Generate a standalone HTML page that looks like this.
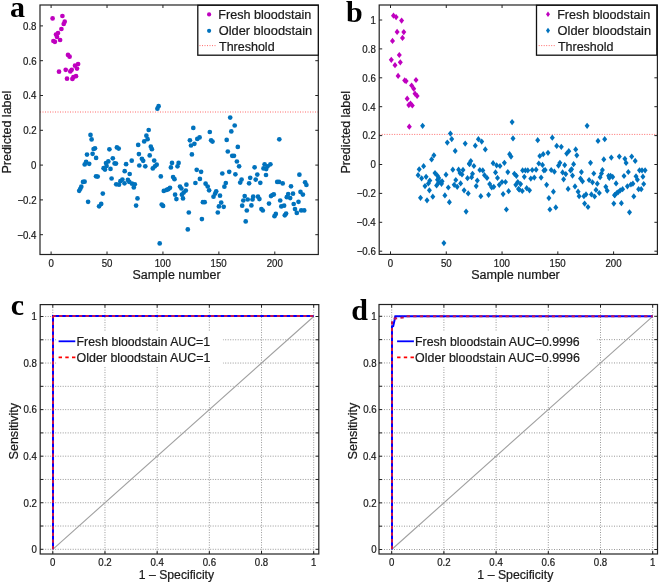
<!DOCTYPE html>
<html><head><meta charset="utf-8"><style>
html,body{margin:0;padding:0;background:#fff;width:660px;height:583px;overflow:hidden}
svg{display:block;will-change:transform}
</style></head><body>
<svg width="660" height="583" viewBox="0 0 660 583">
<g font-family="Liberation Sans, sans-serif" fill="#1a1a1a">
<line x1="40.0" y1="112" x2="318.3" y2="112" stroke="#ff6a6a" stroke-width="1" stroke-dasharray="1,1.5"/>
<circle cx="52.6" cy="18.4" r="2.35" fill="#bf00bf"/>
<circle cx="62.4" cy="16.0" r="2.35" fill="#bf00bf"/>
<circle cx="64.7" cy="21.7" r="2.35" fill="#bf00bf"/>
<circle cx="63.7" cy="24.0" r="2.35" fill="#bf00bf"/>
<circle cx="61.4" cy="29.0" r="2.35" fill="#bf00bf"/>
<circle cx="58.0" cy="33.0" r="2.35" fill="#bf00bf"/>
<circle cx="56.0" cy="34.6" r="2.35" fill="#bf00bf"/>
<circle cx="57.0" cy="36.9" r="2.35" fill="#bf00bf"/>
<circle cx="60.1" cy="40.0" r="2.35" fill="#bf00bf"/>
<circle cx="53.4" cy="41.0" r="2.35" fill="#bf00bf"/>
<circle cx="54.9" cy="41.8" r="2.35" fill="#bf00bf"/>
<circle cx="68.0" cy="54.9" r="2.35" fill="#bf00bf"/>
<circle cx="69.6" cy="56.7" r="2.35" fill="#bf00bf"/>
<circle cx="78.1" cy="64.0" r="2.35" fill="#bf00bf"/>
<circle cx="75.0" cy="65.7" r="2.35" fill="#bf00bf"/>
<circle cx="77.0" cy="68.6" r="2.35" fill="#bf00bf"/>
<circle cx="65.7" cy="69.8" r="2.35" fill="#bf00bf"/>
<circle cx="71.7" cy="69.8" r="2.35" fill="#bf00bf"/>
<circle cx="70.3" cy="71.4" r="2.35" fill="#bf00bf"/>
<circle cx="59.0" cy="71.7" r="2.35" fill="#bf00bf"/>
<circle cx="76.0" cy="76.2" r="2.35" fill="#bf00bf"/>
<circle cx="73.4" cy="77.2" r="2.35" fill="#bf00bf"/>
<circle cx="72.4" cy="78.9" r="2.35" fill="#bf00bf"/>
<circle cx="67.0" cy="78.7" r="2.35" fill="#bf00bf"/>
<circle cx="90.5" cy="134.9" r="2.35" fill="#0072bd"/>
<circle cx="91.6" cy="139.4" r="2.35" fill="#0072bd"/>
<circle cx="93.6" cy="149.0" r="2.35" fill="#0072bd"/>
<circle cx="95.0" cy="148.3" r="2.35" fill="#0072bd"/>
<circle cx="109.4" cy="149.3" r="2.35" fill="#0072bd"/>
<circle cx="116.9" cy="147.4" r="2.35" fill="#0072bd"/>
<circle cx="118.7" cy="148.6" r="2.35" fill="#0072bd"/>
<circle cx="138.2" cy="144.9" r="2.35" fill="#0072bd"/>
<circle cx="87.0" cy="154.6" r="2.35" fill="#0072bd"/>
<circle cx="92.6" cy="153.8" r="2.35" fill="#0072bd"/>
<circle cx="96.1" cy="157.9" r="2.35" fill="#0072bd"/>
<circle cx="112.8" cy="158.3" r="2.35" fill="#0072bd"/>
<circle cx="138.9" cy="154.1" r="2.35" fill="#0072bd"/>
<circle cx="131.7" cy="160.7" r="2.35" fill="#0072bd"/>
<circle cx="86.1" cy="161.8" r="2.35" fill="#0072bd"/>
<circle cx="84.7" cy="164.4" r="2.35" fill="#0072bd"/>
<circle cx="89.2" cy="163.8" r="2.35" fill="#0072bd"/>
<circle cx="106.0" cy="163.1" r="2.35" fill="#0072bd"/>
<circle cx="108.3" cy="161.4" r="2.35" fill="#0072bd"/>
<circle cx="114.6" cy="163.4" r="2.35" fill="#0072bd"/>
<circle cx="126.1" cy="164.2" r="2.35" fill="#0072bd"/>
<circle cx="139.3" cy="165.5" r="2.35" fill="#0072bd"/>
<circle cx="106.6" cy="165.9" r="2.35" fill="#0072bd"/>
<circle cx="103.6" cy="168.2" r="2.35" fill="#0072bd"/>
<circle cx="105.0" cy="169.6" r="2.35" fill="#0072bd"/>
<circle cx="110.5" cy="168.9" r="2.35" fill="#0072bd"/>
<circle cx="124.7" cy="171.2" r="2.35" fill="#0072bd"/>
<circle cx="129.7" cy="174.0" r="2.35" fill="#0072bd"/>
<circle cx="97.7" cy="176.6" r="2.35" fill="#0072bd"/>
<circle cx="96.0" cy="176.3" r="2.35" fill="#0072bd"/>
<circle cx="111.6" cy="178.5" r="2.35" fill="#0072bd"/>
<circle cx="83.0" cy="181.9" r="2.35" fill="#0072bd"/>
<circle cx="84.6" cy="181.7" r="2.35" fill="#0072bd"/>
<circle cx="116.0" cy="163.6" r="2.35" fill="#0072bd"/>
<circle cx="81.3" cy="186.7" r="2.35" fill="#0072bd"/>
<circle cx="80.3" cy="188.8" r="2.35" fill="#0072bd"/>
<circle cx="79.2" cy="190.8" r="2.35" fill="#0072bd"/>
<circle cx="122.4" cy="179.6" r="2.35" fill="#0072bd"/>
<circle cx="120.4" cy="181.2" r="2.35" fill="#0072bd"/>
<circle cx="127.9" cy="179.9" r="2.35" fill="#0072bd"/>
<circle cx="129.3" cy="181.9" r="2.35" fill="#0072bd"/>
<circle cx="116.2" cy="184.3" r="2.35" fill="#0072bd"/>
<circle cx="119.0" cy="184.7" r="2.35" fill="#0072bd"/>
<circle cx="124.5" cy="183.3" r="2.35" fill="#0072bd"/>
<circle cx="132.0" cy="183.7" r="2.35" fill="#0072bd"/>
<circle cx="134.8" cy="184.3" r="2.35" fill="#0072bd"/>
<circle cx="133.8" cy="187.4" r="2.35" fill="#0072bd"/>
<circle cx="102.8" cy="193.6" r="2.35" fill="#0072bd"/>
<circle cx="137.5" cy="198.4" r="2.35" fill="#0072bd"/>
<circle cx="88.1" cy="201.8" r="2.35" fill="#0072bd"/>
<circle cx="101.2" cy="203.9" r="2.35" fill="#0072bd"/>
<circle cx="99.1" cy="206.3" r="2.35" fill="#0072bd"/>
<circle cx="136.1" cy="205.6" r="2.35" fill="#0072bd"/>
<circle cx="158.6" cy="106.2" r="2.35" fill="#0072bd"/>
<circle cx="157.4" cy="108.7" r="2.35" fill="#0072bd"/>
<circle cx="148.7" cy="130.0" r="2.35" fill="#0072bd"/>
<circle cx="193.3" cy="127.9" r="2.35" fill="#0072bd"/>
<circle cx="209.8" cy="132.0" r="2.35" fill="#0072bd"/>
<circle cx="146.4" cy="135.7" r="2.35" fill="#0072bd"/>
<circle cx="147.6" cy="139.2" r="2.35" fill="#0072bd"/>
<circle cx="144.2" cy="141.4" r="2.35" fill="#0072bd"/>
<circle cx="199.6" cy="137.4" r="2.35" fill="#0072bd"/>
<circle cx="197.3" cy="138.9" r="2.35" fill="#0072bd"/>
<circle cx="189.9" cy="140.3" r="2.35" fill="#0072bd"/>
<circle cx="211.1" cy="140.3" r="2.35" fill="#0072bd"/>
<circle cx="212.5" cy="141.6" r="2.35" fill="#0072bd"/>
<circle cx="150.8" cy="146.7" r="2.35" fill="#0072bd"/>
<circle cx="151.9" cy="149.2" r="2.35" fill="#0072bd"/>
<circle cx="194.4" cy="143.8" r="2.35" fill="#0072bd"/>
<circle cx="191.0" cy="145.5" r="2.35" fill="#0072bd"/>
<circle cx="149.7" cy="155.4" r="2.35" fill="#0072bd"/>
<circle cx="191.9" cy="154.4" r="2.35" fill="#0072bd"/>
<circle cx="141.9" cy="158.8" r="2.35" fill="#0072bd"/>
<circle cx="143.2" cy="160.8" r="2.35" fill="#0072bd"/>
<circle cx="154.2" cy="160.6" r="2.35" fill="#0072bd"/>
<circle cx="145.3" cy="166.3" r="2.35" fill="#0072bd"/>
<circle cx="152.8" cy="168.4" r="2.35" fill="#0072bd"/>
<circle cx="154.9" cy="166.3" r="2.35" fill="#0072bd"/>
<circle cx="156.7" cy="164.7" r="2.35" fill="#0072bd"/>
<circle cx="172.0" cy="162.9" r="2.35" fill="#0072bd"/>
<circle cx="170.9" cy="167.4" r="2.35" fill="#0072bd"/>
<circle cx="178.6" cy="162.9" r="2.35" fill="#0072bd"/>
<circle cx="177.5" cy="166.3" r="2.35" fill="#0072bd"/>
<circle cx="196.7" cy="169.8" r="2.35" fill="#0072bd"/>
<circle cx="201.1" cy="171.8" r="2.35" fill="#0072bd"/>
<circle cx="160.8" cy="176.4" r="2.35" fill="#0072bd"/>
<circle cx="173.1" cy="177.1" r="2.35" fill="#0072bd"/>
<circle cx="174.5" cy="179.2" r="2.35" fill="#0072bd"/>
<circle cx="199.9" cy="178.9" r="2.35" fill="#0072bd"/>
<circle cx="195.4" cy="183.0" r="2.35" fill="#0072bd"/>
<circle cx="186.4" cy="184.7" r="2.35" fill="#0072bd"/>
<circle cx="205.6" cy="183.7" r="2.35" fill="#0072bd"/>
<circle cx="207.7" cy="186.5" r="2.35" fill="#0072bd"/>
<circle cx="209.1" cy="190.3" r="2.35" fill="#0072bd"/>
<circle cx="163.8" cy="190.9" r="2.35" fill="#0072bd"/>
<circle cx="166.6" cy="189.9" r="2.35" fill="#0072bd"/>
<circle cx="170.0" cy="187.8" r="2.35" fill="#0072bd"/>
<circle cx="168.3" cy="189.2" r="2.35" fill="#0072bd"/>
<circle cx="180.0" cy="186.5" r="2.35" fill="#0072bd"/>
<circle cx="181.4" cy="188.5" r="2.35" fill="#0072bd"/>
<circle cx="185.8" cy="190.6" r="2.35" fill="#0072bd"/>
<circle cx="183.7" cy="192.6" r="2.35" fill="#0072bd"/>
<circle cx="181.9" cy="194.7" r="2.35" fill="#0072bd"/>
<circle cx="175.1" cy="194.7" r="2.35" fill="#0072bd"/>
<circle cx="176.4" cy="199.1" r="2.35" fill="#0072bd"/>
<circle cx="183.0" cy="198.4" r="2.35" fill="#0072bd"/>
<circle cx="213.5" cy="196.7" r="2.35" fill="#0072bd"/>
<circle cx="161.7" cy="204.6" r="2.35" fill="#0072bd"/>
<circle cx="163.1" cy="205.9" r="2.35" fill="#0072bd"/>
<circle cx="202.9" cy="202.2" r="2.35" fill="#0072bd"/>
<circle cx="204.7" cy="202.2" r="2.35" fill="#0072bd"/>
<circle cx="188.8" cy="212.5" r="2.35" fill="#0072bd"/>
<circle cx="201.9" cy="219.1" r="2.35" fill="#0072bd"/>
<circle cx="187.8" cy="229.4" r="2.35" fill="#0072bd"/>
<circle cx="159.7" cy="243.4" r="2.35" fill="#0072bd"/>
<circle cx="230.2" cy="117.6" r="2.35" fill="#0072bd"/>
<circle cx="234.7" cy="125.5" r="2.35" fill="#0072bd"/>
<circle cx="231.3" cy="131.4" r="2.35" fill="#0072bd"/>
<circle cx="226.7" cy="139.9" r="2.35" fill="#0072bd"/>
<circle cx="279.3" cy="139.3" r="2.35" fill="#0072bd"/>
<circle cx="237.8" cy="146.9" r="2.35" fill="#0072bd"/>
<circle cx="227.8" cy="151.5" r="2.35" fill="#0072bd"/>
<circle cx="232.2" cy="155.8" r="2.35" fill="#0072bd"/>
<circle cx="234.0" cy="155.8" r="2.35" fill="#0072bd"/>
<circle cx="236.9" cy="161.5" r="2.35" fill="#0072bd"/>
<circle cx="239.1" cy="166.3" r="2.35" fill="#0072bd"/>
<circle cx="254.6" cy="167.3" r="2.35" fill="#0072bd"/>
<circle cx="264.6" cy="164.3" r="2.35" fill="#0072bd"/>
<circle cx="270.4" cy="164.3" r="2.35" fill="#0072bd"/>
<circle cx="267.6" cy="166.3" r="2.35" fill="#0072bd"/>
<circle cx="263.5" cy="168.4" r="2.35" fill="#0072bd"/>
<circle cx="266.2" cy="169.1" r="2.35" fill="#0072bd"/>
<circle cx="222.3" cy="173.5" r="2.35" fill="#0072bd"/>
<circle cx="229.2" cy="171.8" r="2.35" fill="#0072bd"/>
<circle cx="235.4" cy="174.3" r="2.35" fill="#0072bd"/>
<circle cx="257.3" cy="174.6" r="2.35" fill="#0072bd"/>
<circle cx="266.0" cy="175.0" r="2.35" fill="#0072bd"/>
<circle cx="241.6" cy="179.6" r="2.35" fill="#0072bd"/>
<circle cx="240.2" cy="182.6" r="2.35" fill="#0072bd"/>
<circle cx="250.2" cy="177.8" r="2.35" fill="#0072bd"/>
<circle cx="249.1" cy="183.3" r="2.35" fill="#0072bd"/>
<circle cx="255.7" cy="179.6" r="2.35" fill="#0072bd"/>
<circle cx="260.3" cy="182.8" r="2.35" fill="#0072bd"/>
<circle cx="277.2" cy="181.9" r="2.35" fill="#0072bd"/>
<circle cx="279.0" cy="181.9" r="2.35" fill="#0072bd"/>
<circle cx="282.7" cy="183.4" r="2.35" fill="#0072bd"/>
<circle cx="225.8" cy="183.0" r="2.35" fill="#0072bd"/>
<circle cx="224.4" cy="186.7" r="2.35" fill="#0072bd"/>
<circle cx="216.2" cy="191.3" r="2.35" fill="#0072bd"/>
<circle cx="215.2" cy="193.6" r="2.35" fill="#0072bd"/>
<circle cx="220.0" cy="195.7" r="2.35" fill="#0072bd"/>
<circle cx="221.2" cy="202.6" r="2.35" fill="#0072bd"/>
<circle cx="218.9" cy="206.4" r="2.35" fill="#0072bd"/>
<circle cx="223.7" cy="206.8" r="2.35" fill="#0072bd"/>
<circle cx="217.8" cy="212.5" r="2.35" fill="#0072bd"/>
<circle cx="244.7" cy="196.1" r="2.35" fill="#0072bd"/>
<circle cx="243.3" cy="200.5" r="2.35" fill="#0072bd"/>
<circle cx="247.7" cy="199.5" r="2.35" fill="#0072bd"/>
<circle cx="253.2" cy="196.7" r="2.35" fill="#0072bd"/>
<circle cx="252.5" cy="199.5" r="2.35" fill="#0072bd"/>
<circle cx="258.0" cy="196.7" r="2.35" fill="#0072bd"/>
<circle cx="259.4" cy="199.1" r="2.35" fill="#0072bd"/>
<circle cx="242.2" cy="205.7" r="2.35" fill="#0072bd"/>
<circle cx="251.4" cy="205.4" r="2.35" fill="#0072bd"/>
<circle cx="246.8" cy="210.5" r="2.35" fill="#0072bd"/>
<circle cx="261.4" cy="209.1" r="2.35" fill="#0072bd"/>
<circle cx="262.8" cy="210.5" r="2.35" fill="#0072bd"/>
<circle cx="269.0" cy="203.6" r="2.35" fill="#0072bd"/>
<circle cx="272.4" cy="195.0" r="2.35" fill="#0072bd"/>
<circle cx="273.8" cy="194.4" r="2.35" fill="#0072bd"/>
<circle cx="271.0" cy="196.1" r="2.35" fill="#0072bd"/>
<circle cx="280.2" cy="200.5" r="2.35" fill="#0072bd"/>
<circle cx="281.3" cy="206.4" r="2.35" fill="#0072bd"/>
<circle cx="284.1" cy="205.7" r="2.35" fill="#0072bd"/>
<circle cx="275.8" cy="213.9" r="2.35" fill="#0072bd"/>
<circle cx="274.5" cy="216.2" r="2.35" fill="#0072bd"/>
<circle cx="286.1" cy="213.6" r="2.35" fill="#0072bd"/>
<circle cx="284.8" cy="215.3" r="2.35" fill="#0072bd"/>
<circle cx="288.2" cy="194.0" r="2.35" fill="#0072bd"/>
<circle cx="286.8" cy="197.2" r="2.35" fill="#0072bd"/>
<circle cx="291.0" cy="186.3" r="2.35" fill="#0072bd"/>
<circle cx="245.7" cy="221.4" r="2.35" fill="#0072bd"/>
<circle cx="299.4" cy="174.7" r="2.35" fill="#0072bd"/>
<circle cx="305.1" cy="182.3" r="2.35" fill="#0072bd"/>
<circle cx="306.4" cy="185.0" r="2.35" fill="#0072bd"/>
<circle cx="293.0" cy="193.7" r="2.35" fill="#0072bd"/>
<circle cx="290.2" cy="198.1" r="2.35" fill="#0072bd"/>
<circle cx="300.5" cy="191.9" r="2.35" fill="#0072bd"/>
<circle cx="302.9" cy="194.6" r="2.35" fill="#0072bd"/>
<circle cx="293.7" cy="204.0" r="2.35" fill="#0072bd"/>
<circle cx="298.5" cy="201.8" r="2.35" fill="#0072bd"/>
<circle cx="295.0" cy="209.1" r="2.35" fill="#0072bd"/>
<circle cx="296.8" cy="212.9" r="2.35" fill="#0072bd"/>
<circle cx="301.2" cy="210.4" r="2.35" fill="#0072bd"/>
<circle cx="304.2" cy="210.4" r="2.35" fill="#0072bd"/>
<rect x="40.0" y="5.0" width="278.30" height="249.50" fill="none" stroke="#222222" stroke-width="1.2"/>
<path d="M51.10,254.5v-3M51.10,5.0v3M107.03,254.5v-3M107.03,5.0v3M162.95,254.5v-3M162.95,5.0v3M218.88,254.5v-3M218.88,5.0v3M274.80,254.5v-3M274.80,5.0v3M40.0,234.70h3M318.3,234.70h-3M40.0,199.90h3M318.3,199.90h-3M40.0,165.10h3M318.3,165.10h-3M40.0,130.30h3M318.3,130.30h-3M40.0,95.50h3M318.3,95.50h-3M40.0,60.70h3M318.3,60.70h-3M40.0,25.90h3M318.3,25.90h-3" stroke="#222222" stroke-width="1" fill="none"/>
<text x="48.41" y="266.80" font-size="10.3" textLength="5.38" lengthAdjust="spacingAndGlyphs" stroke="#1a1a1a" stroke-width="0.22">0</text>
<text x="101.64" y="266.80" font-size="10.3" textLength="10.77" lengthAdjust="spacingAndGlyphs" stroke="#1a1a1a" stroke-width="0.22">50</text>
<text x="154.70" y="266.80" font-size="10.3" textLength="16.15" lengthAdjust="spacingAndGlyphs" stroke="#1a1a1a" stroke-width="0.22">100</text>
<text x="210.62" y="266.80" font-size="10.3" textLength="16.15" lengthAdjust="spacingAndGlyphs" stroke="#1a1a1a" stroke-width="0.22">150</text>
<text x="266.67" y="266.80" font-size="10.3" textLength="16.15" lengthAdjust="spacingAndGlyphs" stroke="#1a1a1a" stroke-width="0.22">200</text>
<text x="17.27" y="238.54" font-size="10.3" textLength="19.11" lengthAdjust="spacingAndGlyphs" stroke="#1a1a1a" stroke-width="0.22">−0.4</text>
<text x="17.47" y="203.74" font-size="10.3" textLength="19.11" lengthAdjust="spacingAndGlyphs" stroke="#1a1a1a" stroke-width="0.22">−0.2</text>
<text x="31.09" y="168.94" font-size="10.3" textLength="5.38" lengthAdjust="spacingAndGlyphs" stroke="#1a1a1a" stroke-width="0.22">0</text>
<text x="23.13" y="134.14" font-size="10.3" textLength="13.46" lengthAdjust="spacingAndGlyphs" stroke="#1a1a1a" stroke-width="0.22">0.2</text>
<text x="22.92" y="99.34" font-size="10.3" textLength="13.46" lengthAdjust="spacingAndGlyphs" stroke="#1a1a1a" stroke-width="0.22">0.4</text>
<text x="23.07" y="64.54" font-size="10.3" textLength="13.46" lengthAdjust="spacingAndGlyphs" stroke="#1a1a1a" stroke-width="0.22">0.6</text>
<text x="23.06" y="29.74" font-size="10.3" textLength="13.46" lengthAdjust="spacingAndGlyphs" stroke="#1a1a1a" stroke-width="0.22">0.8</text>
<text x="132.53" y="279.10" font-size="12.3" textLength="88.09" lengthAdjust="spacingAndGlyphs" stroke="#1a1a1a" stroke-width="0.22" >Sample number</text>
<text transform="translate(11.00,172.60) rotate(-90)" x="-1.03" y="0" font-size="12.3" textLength="82.97" lengthAdjust="spacingAndGlyphs" stroke="#1a1a1a" stroke-width="0.22">Predicted label</text>
<rect x="197.8" y="5.3" width="120.5" height="49.9" fill="#fff" stroke="#111" stroke-width="1.3"/>
<circle cx="209.1" cy="14.4" r="2.1" fill="#bf00bf"/>
<circle cx="209.1" cy="30.8" r="2.1" fill="#0072bd"/>
<line x1="199.5" y1="45.6" x2="216.5" y2="45.6" stroke="#ff6a6a" stroke-width="1" stroke-dasharray="1,1.5"/>
<text x="218.27" y="19.10" font-size="12.3" textLength="93.05" lengthAdjust="spacingAndGlyphs" stroke="#1a1a1a" stroke-width="0.22" >Fresh bloodstain</text>
<text x="218.70" y="35.00" font-size="12.3" textLength="93.44" lengthAdjust="spacingAndGlyphs" stroke="#1a1a1a" stroke-width="0.22" >Older bloodstain</text>
<text x="219.03" y="50.90" font-size="12.3" textLength="55.57" lengthAdjust="spacingAndGlyphs" stroke="#1a1a1a" stroke-width="0.22" >Threshold</text>
<text x="10.04" y="16.80" font-family="Liberation Serif" font-weight="bold" font-size="30" fill="#000">a</text>
<line x1="379.2" y1="134.4" x2="657.4" y2="134.4" stroke="#ff6a6a" stroke-width="1" stroke-dasharray="1,1.5"/>
<path d="M393.5,12.6L396.0,15.7L393.5,18.8L391.0,15.7Z" fill="#bf00bf"/>
<path d="M396.1,14.0L398.6,17.1L396.1,20.2L393.6,17.1Z" fill="#bf00bf"/>
<path d="M401.6,17.5L404.1,20.6L401.6,23.7L399.1,20.6Z" fill="#bf00bf"/>
<path d="M397.1,28.8L399.6,31.9L397.1,35.0L394.6,31.9Z" fill="#bf00bf"/>
<path d="M403.8,29.0L406.3,32.1L403.8,35.2L401.3,32.1Z" fill="#bf00bf"/>
<path d="M402.5,34.8L405.0,37.9L402.5,41.0L400.0,37.9Z" fill="#bf00bf"/>
<path d="M392.5,37.8L395.0,40.9L392.5,44.0L390.0,40.9Z" fill="#bf00bf"/>
<path d="M399.3,51.9L401.8,55.0L399.3,58.1L396.8,55.0Z" fill="#bf00bf"/>
<path d="M391.3,56.7L393.8,59.8L391.3,62.9L388.8,59.8Z" fill="#bf00bf"/>
<path d="M400.3,59.2L402.8,62.3L400.3,65.4L397.8,62.3Z" fill="#bf00bf"/>
<path d="M395.0,62.1L397.5,65.2L395.0,68.3L392.5,65.2Z" fill="#bf00bf"/>
<path d="M398.1,72.8L400.6,75.9L398.1,79.0L395.6,75.9Z" fill="#bf00bf"/>
<path d="M416.0,76.9L418.5,80.0L416.0,83.1L413.5,80.0Z" fill="#bf00bf"/>
<path d="M404.7,77.3L407.2,80.4L404.7,83.5L402.2,80.4Z" fill="#bf00bf"/>
<path d="M406.1,78.0L408.6,81.1L406.1,84.2L403.6,81.1Z" fill="#bf00bf"/>
<path d="M411.6,82.4L414.1,85.5L411.6,88.6L409.1,85.5Z" fill="#bf00bf"/>
<path d="M413.7,85.6L416.2,88.7L413.7,91.8L411.2,88.7Z" fill="#bf00bf"/>
<path d="M415.0,90.6L417.5,93.7L415.0,96.8L412.5,93.7Z" fill="#bf00bf"/>
<path d="M417.1,92.8L419.6,95.9L417.1,99.0L414.6,95.9Z" fill="#bf00bf"/>
<path d="M407.2,95.6L409.7,98.7L407.2,101.8L404.7,98.7Z" fill="#bf00bf"/>
<path d="M408.8,102.0L411.3,105.1L408.8,108.2L406.3,105.1Z" fill="#bf00bf"/>
<path d="M412.3,102.4L414.8,105.5L412.3,108.6L409.8,105.5Z" fill="#bf00bf"/>
<path d="M410.5,100.4L413.0,103.5L410.5,106.6L408.0,103.5Z" fill="#bf00bf"/>
<path d="M409.3,123.6L411.8,126.7L409.3,129.8L406.8,126.7Z" fill="#bf00bf"/>
<path d="M422.6,122.7L425.1,125.8L422.6,128.9L420.1,125.8Z" fill="#0072bd"/>
<path d="M450.4,130.5L452.9,133.6L450.4,136.7L447.9,133.6Z" fill="#0072bd"/>
<path d="M451.7,136.0L454.2,139.1L451.7,142.2L449.2,139.1Z" fill="#0072bd"/>
<path d="M447.3,139.5L449.8,142.6L447.3,145.7L444.8,142.6Z" fill="#0072bd"/>
<path d="M465.2,140.5L467.7,143.6L465.2,146.7L462.7,143.6Z" fill="#0072bd"/>
<path d="M455.2,147.8L457.7,150.9L455.2,154.0L452.7,150.9Z" fill="#0072bd"/>
<path d="M433.9,152.2L436.4,155.3L433.9,158.4L431.4,155.3Z" fill="#0072bd"/>
<path d="M431.6,156.3L434.1,159.4L431.6,162.5L429.1,159.4Z" fill="#0072bd"/>
<path d="M423.6,163.1L426.1,166.2L423.6,169.3L421.1,166.2Z" fill="#0072bd"/>
<path d="M419.2,166.2L421.7,169.3L419.2,172.4L416.7,169.3Z" fill="#0072bd"/>
<path d="M452.8,166.6L455.3,169.7L452.8,172.8L450.3,169.7Z" fill="#0072bd"/>
<path d="M458.6,166.6L461.1,169.7L458.6,172.8L456.1,169.7Z" fill="#0072bd"/>
<path d="M463.0,166.8L465.5,169.9L463.0,173.0L460.5,169.9Z" fill="#0072bd"/>
<path d="M460.0,170.0L462.5,173.1L460.0,176.2L457.5,173.1Z" fill="#0072bd"/>
<path d="M462.0,171.4L464.5,174.5L462.0,177.6L459.5,174.5Z" fill="#0072bd"/>
<path d="M469.3,160.4L471.8,163.5L469.3,166.6L466.8,163.5Z" fill="#0072bd"/>
<path d="M418.1,172.1L420.6,175.2L418.1,178.3L415.6,175.2Z" fill="#0072bd"/>
<path d="M421.6,175.2L424.1,178.3L421.6,181.4L419.1,178.3Z" fill="#0072bd"/>
<path d="M426.1,173.7L428.6,176.8L426.1,179.9L423.6,176.8Z" fill="#0072bd"/>
<path d="M435.0,170.0L437.5,173.1L435.0,176.2L432.5,173.1Z" fill="#0072bd"/>
<path d="M437.3,172.5L439.8,175.6L437.3,178.7L434.8,175.6Z" fill="#0072bd"/>
<path d="M438.7,174.8L441.2,177.9L438.7,181.0L436.2,177.9Z" fill="#0072bd"/>
<path d="M446.0,171.6L448.5,174.7L446.0,177.8L443.5,174.7Z" fill="#0072bd"/>
<path d="M440.8,178.9L443.3,182.0L440.8,185.1L438.3,182.0Z" fill="#0072bd"/>
<path d="M442.1,178.2L444.6,181.3L442.1,184.4L439.6,181.3Z" fill="#0072bd"/>
<path d="M438.7,179.6L441.2,182.7L438.7,185.8L436.2,182.7Z" fill="#0072bd"/>
<path d="M436.6,182.3L439.1,185.4L436.6,188.5L434.1,185.4Z" fill="#0072bd"/>
<path d="M441.5,180.7L444.0,183.8L441.5,186.9L439.0,183.8Z" fill="#0072bd"/>
<path d="M437.5,176.7L440.0,179.8L437.5,182.9L435.0,179.8Z" fill="#0072bd"/>
<path d="M429.8,177.5L432.3,180.6L429.8,183.7L427.3,180.6Z" fill="#0072bd"/>
<path d="M428.4,180.3L430.9,183.4L428.4,186.5L425.9,183.4Z" fill="#0072bd"/>
<path d="M425.0,183.0L427.5,186.1L425.0,189.2L422.5,186.1Z" fill="#0072bd"/>
<path d="M455.8,176.9L458.3,180.0L455.8,183.1L453.3,180.0Z" fill="#0072bd"/>
<path d="M454.2,181.7L456.7,184.8L454.2,187.9L451.7,184.8Z" fill="#0072bd"/>
<path d="M460.6,180.3L463.1,183.4L460.6,186.5L458.1,183.4Z" fill="#0072bd"/>
<path d="M467.5,175.1L470.0,178.2L467.5,181.3L465.0,178.2Z" fill="#0072bd"/>
<path d="M448.3,184.4L450.8,187.5L448.3,190.6L445.8,187.5Z" fill="#0072bd"/>
<path d="M457.2,183.7L459.7,186.8L457.2,189.9L454.7,186.8Z" fill="#0072bd"/>
<path d="M464.1,187.2L466.6,190.3L464.1,193.4L461.6,190.3Z" fill="#0072bd"/>
<path d="M468.2,190.3L470.7,193.4L468.2,196.5L465.7,193.4Z" fill="#0072bd"/>
<path d="M429.4,187.2L431.9,190.3L429.4,193.4L426.9,190.3Z" fill="#0072bd"/>
<path d="M420.5,194.7L423.0,197.8L420.5,200.9L418.0,197.8Z" fill="#0072bd"/>
<path d="M427.0,197.2L429.5,200.3L427.0,203.4L424.5,200.3Z" fill="#0072bd"/>
<path d="M432.8,193.6L435.3,196.7L432.8,199.8L430.3,196.7Z" fill="#0072bd"/>
<path d="M444.9,192.3L447.4,195.4L444.9,198.5L442.4,195.4Z" fill="#0072bd"/>
<path d="M449.4,199.1L451.9,202.2L449.4,205.3L446.9,202.2Z" fill="#0072bd"/>
<path d="M466.1,208.5L468.6,211.6L466.1,214.7L463.6,211.6Z" fill="#0072bd"/>
<path d="M443.9,240.0L446.4,243.1L443.9,246.2L441.4,243.1Z" fill="#0072bd"/>
<path d="M512.1,119.0L514.6,122.1L512.1,125.2L509.6,122.1Z" fill="#0072bd"/>
<path d="M513.0,135.3L515.5,138.4L513.0,141.5L510.5,138.4Z" fill="#0072bd"/>
<path d="M537.7,137.1L540.2,140.2L537.7,143.3L535.2,140.2Z" fill="#0072bd"/>
<path d="M478.4,136.1L480.9,139.2L478.4,142.3L475.9,139.2Z" fill="#0072bd"/>
<path d="M481.7,138.5L484.2,141.6L481.7,144.7L479.2,141.6Z" fill="#0072bd"/>
<path d="M475.3,142.6L477.8,145.7L475.3,148.8L472.8,145.7Z" fill="#0072bd"/>
<path d="M485.3,146.3L487.8,149.4L485.3,152.5L482.8,149.4Z" fill="#0072bd"/>
<path d="M509.6,151.1L512.1,154.2L509.6,157.3L507.1,154.2Z" fill="#0072bd"/>
<path d="M511.0,153.5L513.5,156.6L511.0,159.7L508.5,156.6Z" fill="#0072bd"/>
<path d="M539.8,152.9L542.3,156.0L539.8,159.1L537.3,156.0Z" fill="#0072bd"/>
<path d="M543.2,151.1L545.7,154.2L543.2,157.3L540.7,154.2Z" fill="#0072bd"/>
<path d="M470.8,157.9L473.3,161.0L470.8,164.1L468.3,161.0Z" fill="#0072bd"/>
<path d="M469.5,161.1L472.0,164.2L469.5,167.3L467.0,164.2Z" fill="#0072bd"/>
<path d="M473.9,162.9L476.4,166.0L473.9,169.1L471.4,166.0Z" fill="#0072bd"/>
<path d="M493.1,160.1L495.6,163.2L493.1,166.3L490.6,163.2Z" fill="#0072bd"/>
<path d="M496.6,162.2L499.1,165.3L496.6,168.4L494.1,165.3Z" fill="#0072bd"/>
<path d="M500.0,162.9L502.5,166.0L500.0,169.1L497.5,166.0Z" fill="#0072bd"/>
<path d="M504.4,159.7L506.9,162.8L504.4,165.9L501.9,162.8Z" fill="#0072bd"/>
<path d="M538.8,160.4L541.3,163.5L538.8,166.6L536.3,163.5Z" fill="#0072bd"/>
<path d="M542.5,161.8L545.0,164.9L542.5,168.0L540.0,164.9Z" fill="#0072bd"/>
<path d="M479.8,166.9L482.3,170.0L479.8,173.1L477.3,170.0Z" fill="#0072bd"/>
<path d="M482.8,167.3L485.3,170.4L482.8,173.5L480.3,170.4Z" fill="#0072bd"/>
<path d="M495.5,169.3L498.0,172.4L495.5,175.5L493.0,172.4Z" fill="#0072bd"/>
<path d="M507.8,169.0L510.3,172.1L507.8,175.2L505.3,172.1Z" fill="#0072bd"/>
<path d="M522.6,167.3L525.1,170.4L522.6,173.5L520.1,170.4Z" fill="#0072bd"/>
<path d="M525.4,167.3L527.9,170.4L525.4,173.5L522.9,170.4Z" fill="#0072bd"/>
<path d="M527.8,167.3L530.3,170.4L527.8,173.5L525.3,170.4Z" fill="#0072bd"/>
<path d="M532.2,166.9L534.7,170.0L532.2,173.1L529.7,170.0Z" fill="#0072bd"/>
<path d="M536.1,166.6L538.6,169.7L536.1,172.8L533.6,169.7Z" fill="#0072bd"/>
<path d="M543.9,167.3L546.4,170.4L543.9,173.5L541.4,170.4Z" fill="#0072bd"/>
<path d="M472.5,170.7L475.0,173.8L472.5,176.9L470.0,173.8Z" fill="#0072bd"/>
<path d="M471.6,174.1L474.1,177.2L471.6,180.3L469.1,177.2Z" fill="#0072bd"/>
<path d="M484.5,172.1L487.0,175.2L484.5,178.3L482.0,175.2Z" fill="#0072bd"/>
<path d="M487.0,174.8L489.5,177.9L487.0,181.0L484.5,177.9Z" fill="#0072bd"/>
<path d="M514.4,170.7L516.9,173.8L514.4,176.9L511.9,173.8Z" fill="#0072bd"/>
<path d="M516.4,172.7L518.9,175.8L516.4,178.9L513.9,175.8Z" fill="#0072bd"/>
<path d="M524.3,173.7L526.8,176.8L524.3,179.9L521.8,176.8Z" fill="#0072bd"/>
<path d="M497.5,174.8L500.0,177.9L497.5,181.0L495.0,177.9Z" fill="#0072bd"/>
<path d="M530.8,175.5L533.3,178.6L530.8,181.7L528.3,178.6Z" fill="#0072bd"/>
<path d="M534.3,174.5L536.8,177.6L534.3,180.7L531.8,177.6Z" fill="#0072bd"/>
<path d="M541.1,174.5L543.6,177.6L541.1,180.7L538.6,177.6Z" fill="#0072bd"/>
<path d="M477.3,177.5L479.8,180.6L477.3,183.7L474.8,180.6Z" fill="#0072bd"/>
<path d="M476.2,183.0L478.7,186.1L476.2,189.2L473.7,186.1Z" fill="#0072bd"/>
<path d="M489.7,181.0L492.2,184.1L489.7,187.2L487.2,184.1Z" fill="#0072bd"/>
<path d="M493.8,183.7L496.3,186.8L493.8,189.9L491.3,186.8Z" fill="#0072bd"/>
<path d="M502.0,178.9L504.5,182.0L502.0,185.1L499.5,182.0Z" fill="#0072bd"/>
<path d="M505.5,178.9L508.0,182.0L505.5,185.1L503.0,182.0Z" fill="#0072bd"/>
<path d="M499.3,181.7L501.8,184.8L499.3,187.9L496.8,184.8Z" fill="#0072bd"/>
<path d="M517.8,178.9L520.3,182.0L517.8,185.1L515.3,182.0Z" fill="#0072bd"/>
<path d="M520.6,181.0L523.1,184.1L520.6,187.2L518.1,184.1Z" fill="#0072bd"/>
<path d="M515.8,181.7L518.3,184.8L515.8,187.9L513.3,184.8Z" fill="#0072bd"/>
<path d="M526.7,185.1L529.2,188.2L526.7,191.3L524.2,188.2Z" fill="#0072bd"/>
<path d="M518.5,185.8L521.0,188.9L518.5,192.0L516.0,188.9Z" fill="#0072bd"/>
<path d="M491.7,184.4L494.2,187.5L491.7,190.6L489.2,187.5Z" fill="#0072bd"/>
<path d="M519.2,186.5L521.7,189.6L519.2,192.7L516.7,189.6Z" fill="#0072bd"/>
<path d="M522.3,187.9L524.8,191.0L522.3,194.1L519.8,191.0Z" fill="#0072bd"/>
<path d="M529.5,187.2L532.0,190.3L529.5,193.4L527.0,190.3Z" fill="#0072bd"/>
<path d="M480.8,193.1L483.3,196.2L480.8,199.3L478.3,196.2Z" fill="#0072bd"/>
<path d="M488.6,191.7L491.1,194.8L488.6,197.9L486.1,194.8Z" fill="#0072bd"/>
<path d="M503.1,191.0L505.6,194.1L503.1,197.2L500.6,194.1Z" fill="#0072bd"/>
<path d="M508.6,188.1L511.1,191.2L508.6,194.3L506.1,191.2Z" fill="#0072bd"/>
<path d="M506.4,206.4L508.9,209.5L506.4,212.6L503.9,209.5Z" fill="#0072bd"/>
<path d="M587.1,122.7L589.6,125.8L587.1,128.9L584.6,125.8Z" fill="#0072bd"/>
<path d="M552.3,134.6L554.8,137.7L552.3,140.8L549.8,137.7Z" fill="#0072bd"/>
<path d="M598.0,137.8L600.5,140.9L598.0,144.0L595.5,140.9Z" fill="#0072bd"/>
<path d="M604.7,136.1L607.2,139.2L604.7,142.3L602.2,139.2Z" fill="#0072bd"/>
<path d="M556.7,142.8L559.2,145.9L556.7,149.0L554.2,145.9Z" fill="#0072bd"/>
<path d="M561.3,143.7L563.8,146.8L561.3,149.9L558.8,146.8Z" fill="#0072bd"/>
<path d="M575.7,146.3L578.2,149.4L575.7,152.5L573.2,149.4Z" fill="#0072bd"/>
<path d="M548.0,149.7L550.5,152.8L548.0,155.9L545.5,152.8Z" fill="#0072bd"/>
<path d="M568.8,148.1L571.3,151.2L568.8,154.3L566.3,151.2Z" fill="#0072bd"/>
<path d="M566.7,150.5L569.2,153.6L566.7,156.7L564.2,153.6Z" fill="#0072bd"/>
<path d="M576.8,152.2L579.3,155.3L576.8,158.4L574.3,155.3Z" fill="#0072bd"/>
<path d="M603.8,156.3L606.3,159.4L603.8,162.5L601.3,159.4Z" fill="#0072bd"/>
<path d="M611.3,154.5L613.8,157.6L611.3,160.7L608.8,157.6Z" fill="#0072bd"/>
<path d="M619.3,153.5L621.8,156.6L619.3,159.7L616.8,156.6Z" fill="#0072bd"/>
<path d="M590.5,159.7L593.0,162.8L590.5,165.9L588.0,162.8Z" fill="#0072bd"/>
<path d="M559.9,159.7L562.4,162.8L559.9,165.9L557.4,162.8Z" fill="#0072bd"/>
<path d="M558.5,162.5L561.0,165.6L558.5,168.7L556.0,165.6Z" fill="#0072bd"/>
<path d="M564.7,162.0L567.2,165.1L564.7,168.2L562.2,165.1Z" fill="#0072bd"/>
<path d="M573.6,161.1L576.1,164.2L573.6,167.3L571.1,164.2Z" fill="#0072bd"/>
<path d="M545.2,166.9L547.7,170.0L545.2,173.1L542.7,170.0Z" fill="#0072bd"/>
<path d="M551.2,166.9L553.7,170.0L551.2,173.1L548.7,170.0Z" fill="#0072bd"/>
<path d="M554.4,168.6L556.9,171.7L554.4,174.8L551.9,171.7Z" fill="#0072bd"/>
<path d="M562.6,169.3L565.1,172.4L562.6,175.5L560.1,172.4Z" fill="#0072bd"/>
<path d="M565.8,171.0L568.3,174.1L565.8,177.2L563.3,174.1Z" fill="#0072bd"/>
<path d="M570.5,167.3L573.0,170.4L570.5,173.5L568.0,170.4Z" fill="#0072bd"/>
<path d="M571.6,166.2L574.1,169.3L571.6,172.4L569.1,169.3Z" fill="#0072bd"/>
<path d="M572.5,172.5L575.0,175.6L572.5,178.7L570.0,175.6Z" fill="#0072bd"/>
<path d="M581.4,169.0L583.9,172.1L581.4,175.2L578.9,172.1Z" fill="#0072bd"/>
<path d="M593.8,170.4L596.3,173.5L593.8,176.6L591.3,173.5Z" fill="#0072bd"/>
<path d="M602.4,166.9L604.9,170.0L602.4,173.1L599.9,170.0Z" fill="#0072bd"/>
<path d="M601.5,170.3L604.0,173.4L601.5,176.5L599.0,173.4Z" fill="#0072bd"/>
<path d="M600.1,174.1L602.6,177.2L600.1,180.3L597.6,177.2Z" fill="#0072bd"/>
<path d="M608.6,172.7L611.1,175.8L608.6,178.9L606.1,175.8Z" fill="#0072bd"/>
<path d="M610.6,172.7L613.1,175.8L610.6,178.9L608.1,175.8Z" fill="#0072bd"/>
<path d="M612.7,173.8L615.2,176.9L612.7,180.0L610.2,176.9Z" fill="#0072bd"/>
<path d="M609.3,174.8L611.8,177.9L609.3,181.0L606.8,177.9Z" fill="#0072bd"/>
<path d="M563.6,176.2L566.1,179.3L563.6,182.4L561.1,179.3Z" fill="#0072bd"/>
<path d="M580.5,175.5L583.0,178.6L580.5,181.7L578.0,178.6Z" fill="#0072bd"/>
<path d="M582.5,178.2L585.0,181.3L582.5,184.4L580.0,181.3Z" fill="#0072bd"/>
<path d="M589.1,176.9L591.6,180.0L589.1,183.1L586.6,180.0Z" fill="#0072bd"/>
<path d="M592.5,179.2L595.0,182.3L592.5,185.4L590.0,182.3Z" fill="#0072bd"/>
<path d="M597.3,180.6L599.8,183.7L597.3,186.8L594.8,183.7Z" fill="#0072bd"/>
<path d="M616.1,180.3L618.6,183.4L616.1,186.5L613.6,183.4Z" fill="#0072bd"/>
<path d="M546.6,181.7L549.1,184.8L546.6,187.9L544.1,184.8Z" fill="#0072bd"/>
<path d="M575.0,183.3L577.5,186.4L575.0,189.5L572.5,186.4Z" fill="#0072bd"/>
<path d="M605.8,183.7L608.3,186.8L605.8,189.9L603.3,186.8Z" fill="#0072bd"/>
<path d="M568.1,185.8L570.6,188.9L568.1,192.0L565.6,188.9Z" fill="#0072bd"/>
<path d="M553.4,188.6L555.9,191.7L553.4,194.8L550.9,191.7Z" fill="#0072bd"/>
<path d="M578.1,188.6L580.6,191.7L578.1,194.8L575.6,191.7Z" fill="#0072bd"/>
<path d="M579.1,193.1L581.6,196.2L579.1,199.3L576.6,196.2Z" fill="#0072bd"/>
<path d="M583.9,193.1L586.4,196.2L583.9,199.3L581.4,196.2Z" fill="#0072bd"/>
<path d="M586.0,191.3L588.5,194.4L586.0,197.5L583.5,194.4Z" fill="#0072bd"/>
<path d="M591.4,191.3L593.9,194.4L591.4,197.5L588.9,194.4Z" fill="#0072bd"/>
<path d="M594.6,193.4L597.1,196.5L594.6,199.6L592.1,196.5Z" fill="#0072bd"/>
<path d="M596.0,186.8L598.5,189.9L596.0,193.0L593.5,189.9Z" fill="#0072bd"/>
<path d="M599.3,189.9L601.8,193.0L599.3,196.1L596.8,193.0Z" fill="#0072bd"/>
<path d="M607.2,187.6L609.7,190.7L607.2,193.8L604.7,190.7Z" fill="#0072bd"/>
<path d="M614.8,192.0L617.3,195.1L614.8,198.2L612.3,195.1Z" fill="#0072bd"/>
<path d="M616.8,189.9L619.3,193.0L616.8,196.1L614.3,193.0Z" fill="#0072bd"/>
<path d="M618.2,189.0L620.7,192.1L618.2,195.2L615.7,192.1Z" fill="#0072bd"/>
<path d="M548.9,195.0L551.4,198.1L548.9,201.2L546.4,198.1Z" fill="#0072bd"/>
<path d="M584.6,200.5L587.1,203.6L584.6,206.7L582.1,203.6Z" fill="#0072bd"/>
<path d="M588.0,203.9L590.5,207.0L588.0,210.1L585.5,207.0Z" fill="#0072bd"/>
<path d="M613.8,200.5L616.3,203.6L613.8,206.7L611.3,203.6Z" fill="#0072bd"/>
<path d="M549.9,206.4L552.4,209.5L549.9,212.6L547.4,209.5Z" fill="#0072bd"/>
<path d="M555.8,204.3L558.3,207.4L555.8,210.5L553.3,207.4Z" fill="#0072bd"/>
<path d="M624.9,155.7L627.4,158.8L624.9,161.9L622.4,158.8Z" fill="#0072bd"/>
<path d="M626.1,159.8L628.6,162.9L626.1,166.0L623.6,162.9Z" fill="#0072bd"/>
<path d="M631.7,153.5L634.2,156.6L631.7,159.7L629.2,156.6Z" fill="#0072bd"/>
<path d="M635.2,157.8L637.7,160.9L635.2,164.0L632.7,160.9Z" fill="#0072bd"/>
<path d="M624.0,172.9L626.5,176.0L624.0,179.1L621.5,176.0Z" fill="#0072bd"/>
<path d="M628.3,168.9L630.8,172.0L628.3,175.1L625.8,172.0Z" fill="#0072bd"/>
<path d="M636.0,173.2L638.5,176.3L636.0,179.4L633.5,176.3Z" fill="#0072bd"/>
<path d="M637.4,176.6L639.9,179.7L637.4,182.8L634.9,179.7Z" fill="#0072bd"/>
<path d="M639.5,167.2L642.0,170.3L639.5,173.4L637.0,170.3Z" fill="#0072bd"/>
<path d="M642.0,167.2L644.5,170.3L642.0,173.4L639.5,170.3Z" fill="#0072bd"/>
<path d="M645.1,167.2L647.6,170.3L645.1,173.4L642.6,170.3Z" fill="#0072bd"/>
<path d="M642.9,173.6L645.4,176.7L642.9,179.8L640.4,176.7Z" fill="#0072bd"/>
<path d="M643.7,180.9L646.2,184.0L643.7,187.1L641.2,184.0Z" fill="#0072bd"/>
<path d="M614.6,192.1L617.1,195.2L614.6,198.3L612.1,195.2Z" fill="#0072bd"/>
<path d="M620.2,187.3L622.7,190.4L620.2,193.5L617.7,190.4Z" fill="#0072bd"/>
<path d="M622.6,186.1L625.1,189.2L622.6,192.3L620.1,189.2Z" fill="#0072bd"/>
<path d="M627.4,183.2L629.9,186.3L627.4,189.4L624.9,186.3Z" fill="#0072bd"/>
<path d="M630.9,181.4L633.4,184.5L630.9,187.6L628.4,184.5Z" fill="#0072bd"/>
<path d="M632.9,180.6L635.4,183.7L632.9,186.8L630.4,183.7Z" fill="#0072bd"/>
<path d="M638.6,186.1L641.1,189.2L638.6,192.3L636.1,189.2Z" fill="#0072bd"/>
<path d="M641.2,186.1L643.7,189.2L641.2,192.3L638.7,189.2Z" fill="#0072bd"/>
<path d="M633.8,193.3L636.3,196.4L633.8,199.5L631.3,196.4Z" fill="#0072bd"/>
<path d="M621.4,200.1L623.9,203.2L621.4,206.3L618.9,203.2Z" fill="#0072bd"/>
<path d="M629.5,209.2L632.0,212.3L629.5,215.4L627.0,212.3Z" fill="#0072bd"/>
<rect x="379.2" y="5.0" width="278.20" height="249.40" fill="none" stroke="#222222" stroke-width="1.2"/>
<path d="M390.50,254.4v-3M390.50,5.0v3M446.27,254.4v-3M446.27,5.0v3M502.05,254.4v-3M502.05,5.0v3M557.83,254.4v-3M557.83,5.0v3M613.60,254.4v-3M613.60,5.0v3M379.2,251.20h3M657.4,251.20h-3M379.2,222.30h3M657.4,222.30h-3M379.2,193.40h3M657.4,193.40h-3M379.2,164.50h3M657.4,164.50h-3M379.2,135.60h3M657.4,135.60h-3M379.2,106.70h3M657.4,106.70h-3M379.2,77.80h3M657.4,77.80h-3M379.2,48.90h3M657.4,48.90h-3M379.2,20.00h3M657.4,20.00h-3" stroke="#222222" stroke-width="1" fill="none"/>
<text x="387.81" y="266.80" font-size="10.3" textLength="5.38" lengthAdjust="spacingAndGlyphs" stroke="#1a1a1a" stroke-width="0.22">0</text>
<text x="440.89" y="266.80" font-size="10.3" textLength="10.77" lengthAdjust="spacingAndGlyphs" stroke="#1a1a1a" stroke-width="0.22">50</text>
<text x="493.80" y="266.80" font-size="10.3" textLength="16.15" lengthAdjust="spacingAndGlyphs" stroke="#1a1a1a" stroke-width="0.22">100</text>
<text x="549.57" y="266.80" font-size="10.3" textLength="16.15" lengthAdjust="spacingAndGlyphs" stroke="#1a1a1a" stroke-width="0.22">150</text>
<text x="605.47" y="266.80" font-size="10.3" textLength="16.15" lengthAdjust="spacingAndGlyphs" stroke="#1a1a1a" stroke-width="0.22">200</text>
<text x="356.71" y="255.04" font-size="10.3" textLength="19.11" lengthAdjust="spacingAndGlyphs" stroke="#1a1a1a" stroke-width="0.22">−0.6</text>
<text x="356.57" y="226.14" font-size="10.3" textLength="19.11" lengthAdjust="spacingAndGlyphs" stroke="#1a1a1a" stroke-width="0.22">−0.4</text>
<text x="356.77" y="197.24" font-size="10.3" textLength="19.11" lengthAdjust="spacingAndGlyphs" stroke="#1a1a1a" stroke-width="0.22">−0.2</text>
<text x="370.39" y="168.34" font-size="10.3" textLength="5.38" lengthAdjust="spacingAndGlyphs" stroke="#1a1a1a" stroke-width="0.22">0</text>
<text x="362.43" y="139.44" font-size="10.3" textLength="13.46" lengthAdjust="spacingAndGlyphs" stroke="#1a1a1a" stroke-width="0.22">0.2</text>
<text x="362.22" y="110.54" font-size="10.3" textLength="13.46" lengthAdjust="spacingAndGlyphs" stroke="#1a1a1a" stroke-width="0.22">0.4</text>
<text x="362.37" y="81.64" font-size="10.3" textLength="13.46" lengthAdjust="spacingAndGlyphs" stroke="#1a1a1a" stroke-width="0.22">0.6</text>
<text x="362.36" y="52.74" font-size="10.3" textLength="13.46" lengthAdjust="spacingAndGlyphs" stroke="#1a1a1a" stroke-width="0.22">0.8</text>
<text x="370.49" y="23.84" font-size="10.3" textLength="5.38" lengthAdjust="spacingAndGlyphs" stroke="#1a1a1a" stroke-width="0.22">1</text>
<text x="471.22" y="279.10" font-size="12.3" textLength="88.59" lengthAdjust="spacingAndGlyphs" stroke="#1a1a1a" stroke-width="0.22" >Sample number</text>
<text transform="translate(350.30,172.60) rotate(-90)" x="-1.02" y="0" font-size="12.3" textLength="82.56" lengthAdjust="spacingAndGlyphs" stroke="#1a1a1a" stroke-width="0.22">Predicted label</text>
<rect x="536.5" y="5.3" width="120.3" height="49.9" fill="#fff" stroke="#111" stroke-width="1.3"/>
<path d="M548,11.4L550,14.2L548,17.0L546,14.2Z" fill="#bf00bf"/>
<path d="M548,27.8L550,30.6L548,33.4L546,30.6Z" fill="#0072bd"/>
<line x1="538.7" y1="45.6" x2="555.6" y2="45.6" stroke="#ff6a6a" stroke-width="1" stroke-dasharray="1,1.5"/>
<text x="557.17" y="19.10" font-size="12.3" textLength="93.05" lengthAdjust="spacingAndGlyphs" stroke="#1a1a1a" stroke-width="0.22" >Fresh bloodstain</text>
<text x="557.60" y="35.00" font-size="12.3" textLength="93.44" lengthAdjust="spacingAndGlyphs" stroke="#1a1a1a" stroke-width="0.22" >Older bloodstain</text>
<text x="557.93" y="50.90" font-size="12.3" textLength="55.57" lengthAdjust="spacingAndGlyphs" stroke="#1a1a1a" stroke-width="0.22" >Threshold</text>
<text x="345.91" y="22.00" font-family="Liberation Serif" font-weight="bold" font-size="30" fill="#000">b</text>
<path d="M40.2,549.30H318.8M40.2,526.02H318.8M40.2,502.74H318.8M40.2,479.46H318.8M40.2,456.18H318.8M40.2,432.90H318.8M40.2,409.62H318.8M40.2,386.34H318.8M40.2,363.06H318.8M40.2,339.78H318.8M40.2,316.50H318.8M52.80,304.6V554.0M104.98,304.6V554.0M157.16,304.6V554.0M209.34,304.6V554.0M261.52,304.6V554.0M313.70,304.6V554.0" stroke="#8c8c8c" stroke-width="0.9" stroke-dasharray="1,1.5" fill="none"/>
<rect x="56.3" y="331" width="166.60" height="35.8" fill="#fff"/>
<line x1="52.80" y1="549.30" x2="313.70" y2="316.50" stroke="#a0a0a0" stroke-width="1.1"/>
<path d="M53,549.3V316.0H313.7" stroke="#0000ff" stroke-width="2" fill="none"/>
<path d="M53,549.3V316.0" stroke="#c41450" stroke-width="2" stroke-dasharray="3.3,3.3" stroke-dashoffset="0" fill="none"/>
<path d="M53,316.0H313.7" stroke="#c41450" stroke-width="2" stroke-dasharray="3.3,3.3" stroke-dashoffset="0.5" fill="none"/>
<rect x="40.2" y="304.6" width="278.60" height="249.40" fill="none" stroke="#222222" stroke-width="1.2"/>
<path d="M52.80,554.0v-3M52.80,304.6v3M104.98,554.0v-3M104.98,304.6v3M157.16,554.0v-3M157.16,304.6v3M209.34,554.0v-3M209.34,304.6v3M261.52,554.0v-3M261.52,304.6v3M313.70,554.0v-3M313.70,304.6v3M40.2,549.30h3M318.8,549.30h-3M40.2,526.02h3M318.8,526.02h-3M40.2,502.74h3M318.8,502.74h-3M40.2,479.46h3M318.8,479.46h-3M40.2,456.18h3M318.8,456.18h-3M40.2,432.90h3M318.8,432.90h-3M40.2,409.62h3M318.8,409.62h-3M40.2,386.34h3M318.8,386.34h-3M40.2,363.06h3M318.8,363.06h-3M40.2,339.78h3M318.8,339.78h-3M40.2,316.50h3M318.8,316.50h-3" stroke="#222222" stroke-width="1" fill="none"/>
<text x="50.11" y="566.30" font-size="10.3" textLength="5.38" lengthAdjust="spacingAndGlyphs" stroke="#1a1a1a" stroke-width="0.22">0</text>
<text x="98.30" y="566.30" font-size="10.3" textLength="13.46" lengthAdjust="spacingAndGlyphs" stroke="#1a1a1a" stroke-width="0.22">0.2</text>
<text x="150.38" y="566.30" font-size="10.3" textLength="13.46" lengthAdjust="spacingAndGlyphs" stroke="#1a1a1a" stroke-width="0.22">0.4</text>
<text x="202.64" y="566.30" font-size="10.3" textLength="13.46" lengthAdjust="spacingAndGlyphs" stroke="#1a1a1a" stroke-width="0.22">0.6</text>
<text x="254.81" y="566.30" font-size="10.3" textLength="13.46" lengthAdjust="spacingAndGlyphs" stroke="#1a1a1a" stroke-width="0.22">0.8</text>
<text x="310.88" y="566.30" font-size="10.3" textLength="5.38" lengthAdjust="spacingAndGlyphs" stroke="#1a1a1a" stroke-width="0.22">1</text>
<text x="31.49" y="553.14" font-size="10.3" textLength="5.38" lengthAdjust="spacingAndGlyphs" stroke="#1a1a1a" stroke-width="0.22">0</text>
<text x="23.53" y="506.58" font-size="10.3" textLength="13.46" lengthAdjust="spacingAndGlyphs" stroke="#1a1a1a" stroke-width="0.22">0.2</text>
<text x="23.32" y="460.02" font-size="10.3" textLength="13.46" lengthAdjust="spacingAndGlyphs" stroke="#1a1a1a" stroke-width="0.22">0.4</text>
<text x="23.47" y="413.46" font-size="10.3" textLength="13.46" lengthAdjust="spacingAndGlyphs" stroke="#1a1a1a" stroke-width="0.22">0.6</text>
<text x="23.46" y="366.90" font-size="10.3" textLength="13.46" lengthAdjust="spacingAndGlyphs" stroke="#1a1a1a" stroke-width="0.22">0.8</text>
<text x="31.59" y="320.34" font-size="10.3" textLength="5.38" lengthAdjust="spacingAndGlyphs" stroke="#1a1a1a" stroke-width="0.22">1</text>
<text x="138.87" y="578.50" font-size="12.3" textLength="75.26" lengthAdjust="spacingAndGlyphs" stroke="#1a1a1a" stroke-width="0.22" >1 – Specificity</text>
<text transform="translate(17.70,458.90) rotate(-90)" x="-0.58" y="0" font-size="12.3" textLength="56.51" lengthAdjust="spacingAndGlyphs" stroke="#1a1a1a" stroke-width="0.22">Sensitivity</text>
<line x1="58.6" y1="341.3" x2="75.3" y2="341.3" stroke="#0000ff" stroke-width="1.8"/>
<line x1="58.6" y1="357.4" x2="75.6" y2="357.4" stroke="#ff0000" stroke-width="1.6" stroke-dasharray="3.4,3.3"/>
<text x="76.59" y="345.90" font-size="12.3" textLength="133.51" lengthAdjust="spacingAndGlyphs" stroke="#1a1a1a" stroke-width="0.22" >Fresh bloodstain AUC=1</text>
<text x="76.62" y="362.00" font-size="12.3" textLength="133.70" lengthAdjust="spacingAndGlyphs" stroke="#1a1a1a" stroke-width="0.22" >Older bloodstain AUC=1</text>
<path d="M379.0,549.50H657.5M379.0,526.18H657.5M379.0,502.86H657.5M379.0,479.54H657.5M379.0,456.22H657.5M379.0,432.90H657.5M379.0,409.58H657.5M379.0,386.26H657.5M379.0,362.94H657.5M379.0,339.62H657.5M379.0,316.30H657.5M391.70,304.5V554.0M443.90,304.5V554.0M496.10,304.5V554.0M548.30,304.5V554.0M600.50,304.5V554.0M652.70,304.5V554.0" stroke="#8c8c8c" stroke-width="0.9" stroke-dasharray="1,1.5" fill="none"/>
<rect x="393.2" y="331" width="203.60" height="35.8" fill="#fff"/>
<line x1="391.70" y1="549.50" x2="652.70" y2="316.30" stroke="#a0a0a0" stroke-width="1.1"/>
<path d="M392,549.5V326.3L393.2,326.1L395.4,316.2H652.7" stroke="#0000ff" stroke-width="2" fill="none"/>
<path d="M392,549.5V320.5L394,318.8L403,317.5L405,316.2H652.7" stroke="#c41450" stroke-width="2" stroke-dasharray="3.3,3.3" stroke-dashoffset="-0.5" fill="none"/>
<rect x="379.0" y="304.5" width="278.50" height="249.50" fill="none" stroke="#222222" stroke-width="1.2"/>
<path d="M391.70,554.0v-3M391.70,304.5v3M443.90,554.0v-3M443.90,304.5v3M496.10,554.0v-3M496.10,304.5v3M548.30,554.0v-3M548.30,304.5v3M600.50,554.0v-3M600.50,304.5v3M652.70,554.0v-3M652.70,304.5v3M379.0,549.50h3M657.5,549.50h-3M379.0,526.18h3M657.5,526.18h-3M379.0,502.86h3M657.5,502.86h-3M379.0,479.54h3M657.5,479.54h-3M379.0,456.22h3M657.5,456.22h-3M379.0,432.90h3M657.5,432.90h-3M379.0,409.58h3M657.5,409.58h-3M379.0,386.26h3M657.5,386.26h-3M379.0,362.94h3M657.5,362.94h-3M379.0,339.62h3M657.5,339.62h-3M379.0,316.30h3M657.5,316.30h-3" stroke="#222222" stroke-width="1" fill="none"/>
<text x="389.01" y="566.30" font-size="10.3" textLength="5.38" lengthAdjust="spacingAndGlyphs" stroke="#1a1a1a" stroke-width="0.22">0</text>
<text x="437.22" y="566.30" font-size="10.3" textLength="13.46" lengthAdjust="spacingAndGlyphs" stroke="#1a1a1a" stroke-width="0.22">0.2</text>
<text x="489.32" y="566.30" font-size="10.3" textLength="13.46" lengthAdjust="spacingAndGlyphs" stroke="#1a1a1a" stroke-width="0.22">0.4</text>
<text x="541.60" y="566.30" font-size="10.3" textLength="13.46" lengthAdjust="spacingAndGlyphs" stroke="#1a1a1a" stroke-width="0.22">0.6</text>
<text x="593.79" y="566.30" font-size="10.3" textLength="13.46" lengthAdjust="spacingAndGlyphs" stroke="#1a1a1a" stroke-width="0.22">0.8</text>
<text x="649.88" y="566.30" font-size="10.3" textLength="5.38" lengthAdjust="spacingAndGlyphs" stroke="#1a1a1a" stroke-width="0.22">1</text>
<text x="371.19" y="553.34" font-size="10.3" textLength="5.38" lengthAdjust="spacingAndGlyphs" stroke="#1a1a1a" stroke-width="0.22">0</text>
<text x="363.23" y="506.70" font-size="10.3" textLength="13.46" lengthAdjust="spacingAndGlyphs" stroke="#1a1a1a" stroke-width="0.22">0.2</text>
<text x="363.02" y="460.06" font-size="10.3" textLength="13.46" lengthAdjust="spacingAndGlyphs" stroke="#1a1a1a" stroke-width="0.22">0.4</text>
<text x="363.17" y="413.42" font-size="10.3" textLength="13.46" lengthAdjust="spacingAndGlyphs" stroke="#1a1a1a" stroke-width="0.22">0.6</text>
<text x="363.16" y="366.78" font-size="10.3" textLength="13.46" lengthAdjust="spacingAndGlyphs" stroke="#1a1a1a" stroke-width="0.22">0.8</text>
<text x="371.29" y="320.14" font-size="10.3" textLength="5.38" lengthAdjust="spacingAndGlyphs" stroke="#1a1a1a" stroke-width="0.22">1</text>
<text x="477.36" y="578.50" font-size="12.3" textLength="75.97" lengthAdjust="spacingAndGlyphs" stroke="#1a1a1a" stroke-width="0.22" >1 – Specificity</text>
<text transform="translate(356.90,458.90) rotate(-90)" x="-0.58" y="0" font-size="12.3" textLength="56.71" lengthAdjust="spacingAndGlyphs" stroke="#1a1a1a" stroke-width="0.22">Sensitivity</text>
<line x1="397.1" y1="341.3" x2="413.9" y2="341.3" stroke="#0000ff" stroke-width="1.8"/>
<line x1="397.1" y1="357.4" x2="414.2" y2="357.4" stroke="#ff0000" stroke-width="1.6" stroke-dasharray="3.4,3.3"/>
<text x="415.09" y="345.90" font-size="12.3" textLength="164.55" lengthAdjust="spacingAndGlyphs" stroke="#1a1a1a" stroke-width="0.22" >Fresh bloodstain AUC=0.9996</text>
<text x="415.12" y="362.00" font-size="12.3" textLength="164.73" lengthAdjust="spacingAndGlyphs" stroke="#1a1a1a" stroke-width="0.22" >Older bloodstain AUC=0.9996</text>
<text x="10.68" y="315.00" font-family="Liberation Serif" font-weight="bold" font-size="30" fill="#000">c</text>
<text x="351.37" y="320.00" font-family="Liberation Serif" font-weight="bold" font-size="30" fill="#000">d</text>
</g></svg>
</body></html>
